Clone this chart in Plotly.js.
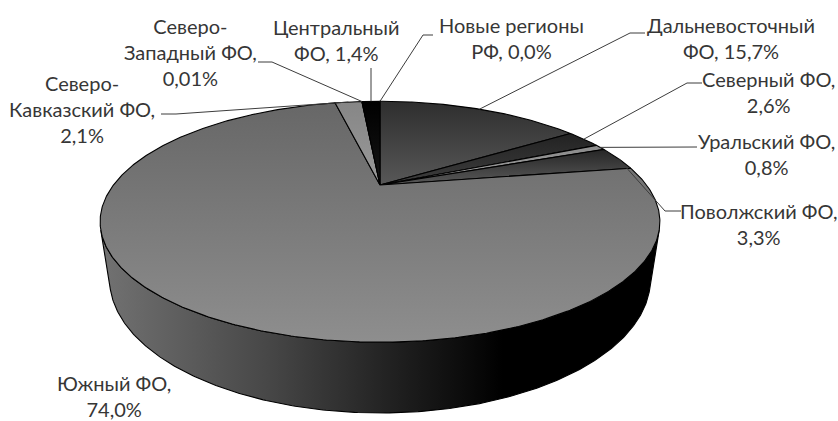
<!DOCTYPE html>
<html>
<head>
<meta charset="utf-8">
<script src="https://cdn.plot.ly/plotly-3.0.1.min.js"></script>
<style>
  html, body { margin: 0; padding: 0; background: #ffffff; }
  #chart { width: 838px; height: 421px; }
</style>
</head>
<body>
<div id="chart"></div>
<script>
// Распределение по федеральным округам, % (по часовой стрелке от 12 часов)
const regions = ['Дальневосточный ФО', 'Северный ФО', 'Уральский ФО', 'Поволжский ФО',
                 'Южный ФО', 'Северо-Кавказский ФО', 'Северо-Западный ФО', 'Центральный ФО',
                 'Новые регионы РФ'];
const shares = [15.7, 2.6, 0.8, 3.3, 74.0, 2.1, 0.01, 1.4, 0.0];
// Подписи: {v} заменяется значением доли
const labelTemplates = ['Дальневосточный<br>ФО, {v}', 'Северный ФО,<br>{v}', 'Уральский ФО,<br>{v}',
                        'Поволжский ФО,<br>{v}', 'Южный ФО,<br>{v}', 'Северо-<br>Кавказский ФО,<br>{v}',
                        'Северо-<br>Западный ФО,<br>{v}', 'Центральный<br>ФО, {v}', 'Новые регионы<br>РФ, {v}'];

// ---- оформление ----
const topShades = [['#2e2e2e', '#585858'], ['#222222', '#3e3e3e'], ['#8c8c8c', '#9c9c9c'],
                   ['#262626', '#595959'], ['#676767', '#8e8e8e'], ['#868686', '#9a9a9a'],
                   ['#8a8a8a', '#9a9a9a'], ['#000000', '#161616'], ['#000000', '#000000']];
const sideScale = [[0, '#727272'], [0.3, '#474747'], [0.55, '#1c1c1c'], [0.72, '#000000'], [1, '#000000']];
// центр подписи (x, середина блока по y) и излом выноски [излом, конец]
const labelPos = [[731, 38], [768, 92], [766, 154], [758, 224], [114, 396], [82, 109], [190, 52], [336, 40], [511, 38]];
const leaderPts = [[[630, 33], [645, 33]], [[687, 83], [702, 83]], [[682, 147], [697, 147]],
                   [[665, 211], [681, 211]], null, [[176, 114], [161, 114]], [[272, 62], [258, 62]],
                   [[371, 68], [371, 68]], [[423, 35], [433, 35]]];

// ---- перспективная проекция наклонённого диска ----
const cx = 380, cy = 185;
const view = { s: 797, D: 2.99, elev: 24.2 * Math.PI / 180, h: 0.232 };
const se = Math.sin(view.elev), ce = Math.cos(view.elev);
function project(X, Y, Z) {
  const depth = view.D + Y * ce - Z * se;
  return [cx + view.s * X / depth, cy - view.s * (Y * se + Z * ce) / depth];
}
function rim(theta, Z) { return project(Math.sin(theta), Math.cos(theta), Z); }
function arc(a0, a1, Z) {
  const n = Math.max(2, Math.ceil(Math.abs(a1 - a0) / (Math.PI / 360)));
  const pts = [];
  for (let i = 0; i <= n; i++) pts.push(rim(a0 + (a1 - a0) * i / n, Z));
  return pts;
}

const fmt = v => (v > 0 && v < 0.1 ? v.toFixed(2) : v.toFixed(1)).replace('.', ',') + '%';
const total = shares.reduce((a, b) => a + b, 0);
const bounds = [];
let cum = 0;
shares.forEach(v => { const a0 = 2 * Math.PI * cum / total; cum += v; bounds.push([a0, 2 * Math.PI * cum / total]); });

const traces = [];
const edge = { color: '#000000', width: 1.1 };

// боковая стенка: видимая часть между линиями силуэта
const ySil = -1 / (view.D * ce);
const thR = Math.atan2(Math.sqrt(1 - ySil * ySil), ySil);
const thL = 2 * Math.PI - thR;
const left = rim(thL, -view.h)[0], right = rim(thR, -view.h)[0];
const xL = Math.min(left, rim(thL, 0)[0]), xR = Math.max(right, rim(thR, 0)[0]);
bounds.forEach(([a0, a1]) => {
  const s0 = Math.max(a0, thR), s1 = Math.min(a1, thL);
  if (s1 <= s0) return;
  const pts = arc(s0, s1, 0).concat(arc(s1, s0, -view.h));
  pts.push(pts[0]);
  traces.push({
    type: 'scatter', mode: 'lines', x: pts.map(p => p[0]), y: pts.map(p => p[1]),
    fill: 'toself', line: edge, hoverinfo: 'skip',
    fillgradient: { type: 'horizontal', colorscale: sideScale, start: xL, stop: xR }
  });
});

// верхние грани секторов
bounds.forEach(([a0, a1], i) => {
  if (shares[i] <= 0) return;
  const pts = [[cx, cy]].concat(arc(a0, a1, 0));
  pts.push([cx, cy]);
  const ys = pts.map(p => p[1]);
  traces.push({
    type: 'scatter', mode: 'lines', x: pts.map(p => p[0]), y: ys,
    fill: 'toself', line: edge, name: regions[i], hoverinfo: 'name',
    fillgradient: { type: 'vertical', colorscale: [[0, topShades[i][0]], [1, topShades[i][1]]],
                    start: Math.min(...ys), stop: Math.max(...ys) }
  });
});

// выноски
bounds.forEach(([a0, a1], i) => {
  if (!leaderPts[i]) return;
  const a = rim((a0 + a1) / 2, 0);
  const pts = [a].concat(leaderPts[i]);
  traces.push({ type: 'scatter', mode: 'lines', x: pts.map(p => p[0]), y: pts.map(p => p[1]),
                line: { color: '#3c3c3c', width: 1 }, hoverinfo: 'skip' });
});

const annotations = labelTemplates.map((t, i) => ({
  text: t.replace('{v}', fmt(shares[i])),
  x: labelPos[i][0], y: labelPos[i][1], xref: 'x', yref: 'y',
  xanchor: 'center', yanchor: 'middle', align: 'center', showarrow: false,
  font: { family: 'Lato, "Open Sans", sans-serif', size: 20, color: '#363636' }
}));

const layout = {
  width: 838, height: 421,
  margin: { l: 0, r: 0, t: 0, b: 0 },
  paper_bgcolor: '#ffffff', plot_bgcolor: '#ffffff',
  showlegend: false,
  xaxis: { range: [0, 838], visible: false, fixedrange: true },
  yaxis: { range: [421, 0], visible: false, fixedrange: true },
  annotations: annotations
};

Plotly.newPlot('chart', traces, layout, { displayModeBar: false, staticPlot: true });
</script>
</body>
</html>
